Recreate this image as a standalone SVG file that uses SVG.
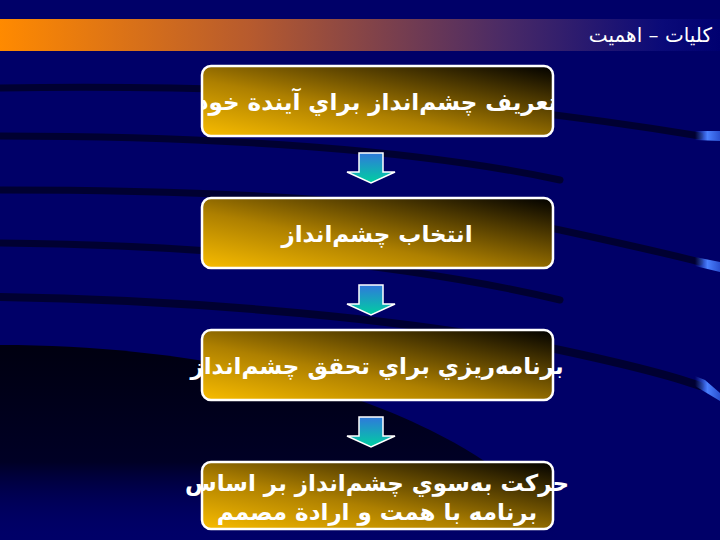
<svg xmlns="http://www.w3.org/2000/svg" width="720" height="540" viewBox="0 0 720 540">
<defs>
<linearGradient id="bar" x1="0" y1="0" x2="1" y2="0">
<stop offset="0" stop-color="#ff8a00"/>
<stop offset="0.35" stop-color="#b65a2e"/>
<stop offset="0.7" stop-color="#4a2a66"/>
<stop offset="0.92" stop-color="#0a0a78"/>
<stop offset="1" stop-color="#000070"/>
</linearGradient>
<linearGradient id="box" x1="0" y1="1" x2="1" y2="0">
<stop offset="0" stop-color="#f8bc00"/>
<stop offset="0.4" stop-color="#ae8000"/>
<stop offset="1" stop-color="#000000"/>
</linearGradient>
<linearGradient id="arr" x1="0" y1="0" x2="0" y2="1">
<stop offset="0" stop-color="#2f78dc"/>
<stop offset="1" stop-color="#00d0a0"/>
</linearGradient>
<linearGradient id="dark" x1="0" y1="0" x2="0" y2="1">
<stop offset="0" stop-color="#000010"/>
<stop offset="0.6" stop-color="#000025"/>
<stop offset="1" stop-color="#000066" stop-opacity="0"/>
</linearGradient>
<linearGradient id="hl" x1="0" y1="0" x2="1" y2="0">
<stop offset="0" stop-color="#3a6cf0" stop-opacity="0"/>
<stop offset="0.5" stop-color="#4a80ff"/>
<stop offset="1" stop-color="#2a50d0"/>
</linearGradient>
<clipPath id="c1"><rect x="202" y="66" width="351" height="70" rx="9"/></clipPath>
<style>
.stripe{fill:none;stroke:#000028;stroke-linecap:round;stroke-opacity:0.85}
.node rect{fill:url(#box);stroke:#ffffff;stroke-width:2.5}
.node text{font-family:"DejaVu Sans",sans-serif;font-weight:bold;font-size:23px;fill:#ffffff;text-anchor:middle}
.arrow{fill:url(#arr);stroke:#ffffff;stroke-width:1.5;stroke-linejoin:miter}
.title{font-family:"DejaVu Sans",sans-serif;font-size:20px;fill:#ffffff;text-anchor:end}
</style>
</defs>
<g id="background">
<rect width="720" height="540" fill="#000068"/>
<path d="M0,345 C180,345 330,380 430,430 C500,465 540,500 560,540 L0,540 Z" fill="url(#dark)"/>
<path class="stripe" stroke-width="7" d="M0,88 C200,85 420,90 700,136"/>
<path class="stripe" stroke-width="7" d="M0,136 C220,136 420,150 560,180"/>
<path class="stripe" stroke-width="7" d="M0,190 C220,190 420,200 560,230 C620,243 660,252 700,262"/>
<path class="stripe" stroke-width="7" d="M0,243 C200,245 400,262 560,300"/>
<path class="stripe" stroke-width="8" d="M0,297 C200,300 420,320 560,350 C630,365 670,375 700,386"/>
<path d="M695,131 L720,131 L720,141 L695,140 Z" fill="url(#hl)"/>
<path d="M695,257 L720,262 L720,272 L695,266 Z" fill="url(#hl)"/>
<path d="M695,376 L705,380 L720,393 L720,401 L705,392 L695,386 Z" fill="url(#hl)"/>
</g>
<g id="title">
<rect x="0" y="19" width="720" height="32" fill="url(#bar)"/>
<text class="title" x="712" y="42">كليات – اهميت</text>
</g>
<g id="connectors">
<path class="arrow" d="M359,153 L383,153 L383,172 L395,172 L371,183 L347,172 L359,172 Z"/>
<path class="arrow" d="M359,285 L383,285 L383,304 L395,304 L371,315 L347,304 L359,304 Z"/>
<path class="arrow" d="M359,417 L383,417 L383,436 L395,436 L371,447 L347,436 L359,436 Z"/>
</g>
<g id="node1" class="node">
<rect x="202" y="66" width="351" height="70" rx="9"/>
<text x="377" y="110" clip-path="url(#c1)" direction="rtl">تعريف چشم‌انداز براي آيندة خود</text>
</g>
<g id="node2" class="node">
<rect x="202" y="198" width="351" height="70" rx="9"/>
<text x="377" y="242" direction="rtl">انتخاب چشم‌انداز</text>
</g>
<g id="node3" class="node">
<rect x="202" y="330" width="351" height="70" rx="9"/>
<text x="377" y="374" direction="rtl">برنامه‌ريزي براي تحقق چشم‌انداز</text>
</g>
<g id="node4" class="node">
<rect x="202" y="462" width="351" height="67" rx="9"/>
<text x="377" y="491" direction="rtl">حركت به‌سوي چشم‌انداز بر اساس</text>
<text x="377" y="520" direction="rtl">برنامه با همت و ارادة مصمم</text>
</g>
</svg>
